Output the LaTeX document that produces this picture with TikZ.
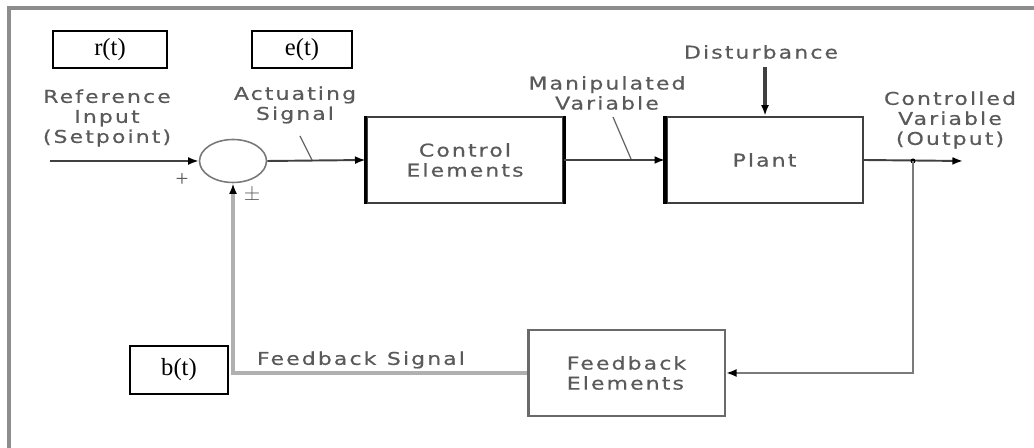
\documentclass[tikz,border=0pt]{standalone}
\usepackage{fontspec}
\setmainfont{Liberation Serif}
\newfontfamily\lblfont[LetterSpace=12,FakeStretch=1.25,FakeBold=0.6]{DejaVu Sans}
\usepackage{tikz}
\usetikzlibrary{positioning}
\usetikzlibrary{shapes.geometric,arrows.meta}

\definecolor{txtgray}{HTML}{5A5A5A}
\definecolor{linegray}{HTML}{404040}
\definecolor{fbgray}{HTML}{B0B0B0}

\tikzset{
    sigbox/.style={draw=black,thick,fill=white,font=\fontsize{14}{15}\selectfont},
    block/.style={draw=linegray,line width=1.4pt,minimum width=3.93cm,minimum height=1.72cm,align=center,
        text=txtgray,font=\lblfont\fontsize{10}{11.4}\selectfont},
    lbl/.style={align=center,text=txtgray,font=\lblfont\fontsize{10}{11.4}\selectfont,inner sep=0pt},
    sigline/.style={draw=linegray,line width=1.1pt},
    tip/.style={-{Latex[length=6pt,width=4.5pt,color=black]}}
}

\begin{document}
\begin{tikzpicture}[x=0.02cm,y=-0.02cm]
        \useasboundingbox (0,0) rectangle (1034,448);
        % frame
        \draw[fbgray!80!black,line width=1.8pt] (9,448) -- (9,8) -- (1034,8);

        % signal names
        \node[sigbox,minimum width=2.28cm,minimum height=0.74cm] (rt) at (110,49.5) {r(t)};
        \node[sigbox,minimum width=2cm,minimum height=0.74cm] (et) at (302,49.5) {e(t)};
        \node[sigbox,minimum width=1.96cm,minimum height=0.96cm] (bt) at (179,370) {b(t)};

        % blocks
        \node[draw=linegray!70,line width=0.9pt,ellipse,minimum width=1.34cm,minimum height=0.86cm] (sum) at (233,161) {};
        \node[block] (ctrl) at (465,160) {Control\\Elements};
        \node[block] (plant) at (764.5,160) {Plant};
        \node[block,draw=fbgray!60!black,align=left] (fb) at (626.5,373) {Feedback\\Elements};
        \draw[line width=1.8pt] (ctrl.north west) -- (ctrl.south west);
        \draw[line width=1.8pt] (ctrl.north east) -- (ctrl.south east);
        \draw[line width=1.8pt] (plant.north west) -- (plant.south west);

        % labels
        \node[lbl] (refin) at (107,118) {Reference\\Input\\(Setpoint)};
        \node[lbl] (act) at (295,105) {Actuating\\Signal};
        \node[lbl] (manip) at (607,93) {Manipulated\\Variable};
        \node[lbl] (dist) at (761,52) {Disturbance};
        \node[lbl] (outlbl) at (950,120) {Controlled\\Variable\\(Output)};
        \node[lbl] (fbsig) at (361,360) {Feedback\hspace{6pt}Signal};
        \node[lbl,font=\fontsize{13}{13}\selectfont] (plus) at (182,180) {+};
        \node[lbl,font=\fontsize{13}{13}\selectfont] (pm) at (252,195) {$\pm$};

        \coordinate (in) at (50,161);
        \coordinate (out) at (963,161);
        \coordinate (br) at (913,161);
        \coordinate (distin) at (765,67);
        \coordinate (acta) at (300,136);
        \coordinate (actb) at (312,160);
        \coordinate (mana) at (613,117);
        \coordinate (manb) at (631,159);

        % forward path
        \draw[sigline,tip] (in) -- (sum.west);
        \draw[sigline,tip] (sum.east) -- (ctrl.west);
        \draw[sigline,tip] (ctrl.east) -- (plant.west);
        \draw[sigline,line width=1.8pt,tip] (distin) -- (plant.north -| distin);
        \draw[sigline,tip] (plant.east) -- (out);
        \fill[black] (br) circle (2.5);

        % feedback path
        \draw[sigline,draw=fbgray!70!black,line width=1.4pt,tip] (br) |- (fb.east);
        \draw[sigline,draw=fbgray,line width=1.8pt,tip] (fb.west) -| (sum.south);

        % leaders
        \draw[linegray!80,line width=0.7pt] (acta) -- (actb);
        \draw[linegray!80,line width=0.7pt] (mana) -- (manb);
\end{tikzpicture}
\end{document}
